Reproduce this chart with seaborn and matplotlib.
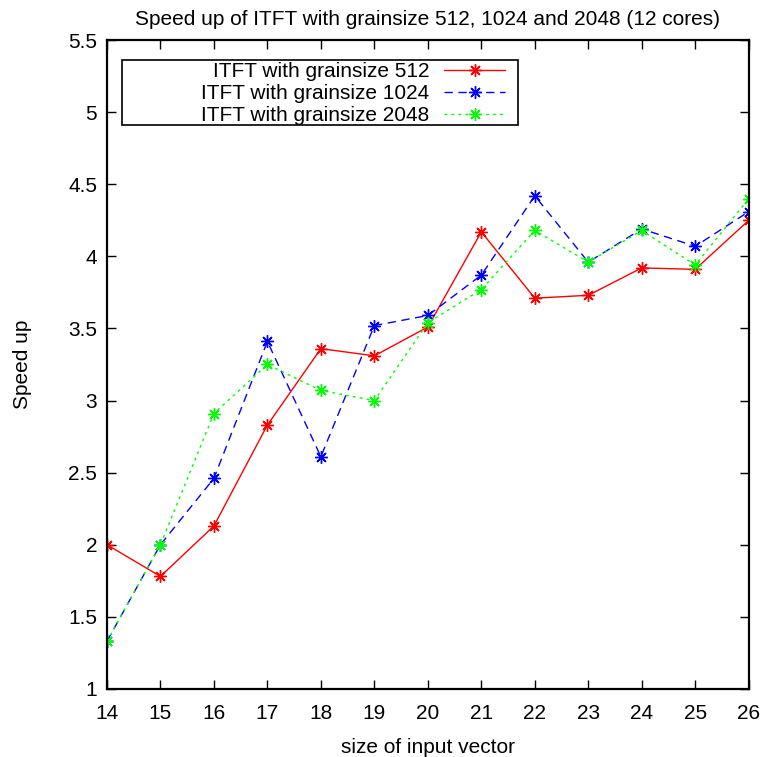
import numpy as np
import pandas as pd
import matplotlib
matplotlib.use("Agg")
import matplotlib.pyplot as plt
from matplotlib.patches import Rectangle
import seaborn as sns

sizes = [14, 15, 16, 17, 18, 19, 20, 21, 22, 23, 24, 25, 26]
speedup_512 = [2.0, 1.78, 2.13, 2.83, 3.36, 3.31, 3.51, 4.17, 3.71, 3.73, 3.92, 3.91, 4.25]
speedup_1024 = [1.33, 2.0, 2.46, 3.41, 2.61, 3.52, 3.59, 3.87, 4.42, 3.96, 4.19, 4.07, 4.31]
speedup_2048 = [1.33, 2.0, 2.91, 3.25, 3.07, 3.0, 3.54, 3.77, 4.18, 3.96, 4.18, 3.94, 4.40]

labels = ["ITFT with grainsize 512", "ITFT with grainsize 1024", "ITFT with grainsize 2048"]
colors = ["#ff0000", "#0000ff", "#00ff00"]
dashes = ["-", (0, (6, 4)), (0, (2, 3))]

sns.set_style("ticks")
plt.rcParams["font.family"] = ["Liberation Sans", "DejaVu Sans"]
plt.rcParams["text.color"] = "black"
plt.rcParams["axes.labelcolor"] = "black"
plt.rcParams["xtick.color"] = "black"
plt.rcParams["ytick.color"] = "black"

fs = 15
fs_big = 15

fig = plt.figure(figsize=(7.64, 7.57), dpi=100)
ax = fig.add_axes([0.140, 0.090, 0.840, 0.857])

for lab, vals, c, ls in zip(labels, [speedup_512, speedup_1024, speedup_2048], colors, dashes):
    df = pd.DataFrame({"size": sizes, "speedup": vals})
    sns.lineplot(data=df, x="size", y="speedup", ax=ax, color=c, linestyle=ls,
                 linewidth=1, marker=(8, 2, 0), markersize=9, markeredgewidth=1,
                 markeredgecolor=c, label=lab)

ax.set_xlim(14, 26)
ax.set_ylim(1, 5.5)
ax.set_xticks(sizes)
yt = np.arange(1, 5.51, 0.5)
ax.set_yticks(yt)
ax.set_yticklabels([f"{v:g}" for v in yt])
ax.tick_params(direction="in", length=6.5, width=1, top=True, right=True, labelsize=fs)
ax.tick_params(axis="x", pad=11)
ax.tick_params(axis="y", pad=7)
for s in ax.spines.values():
    s.set_linewidth(1.6)
    s.set_color("black")

ax.set_xlabel("size of input vector", fontsize=fs_big, labelpad=11)
ax.set_ylabel("Speed up", fontsize=fs_big, labelpad=26)
ax.set_title("Speed up of ITFT with grainsize 512, 1024 and 2048 (12 cores)", fontsize=fs_big, pad=11)

leg = ax.legend(loc="upper right", bbox_to_anchor=(0.620, 0.966), markerfirst=False,
                fontsize=fs_big, handlelength=2.9, handletextpad=0.72, labelspacing=0.15,
                borderpad=0, fancybox=False, frameon=False, borderaxespad=0)
ax.add_patch(Rectangle((0.0234, 0.869), 0.6166, 0.100, transform=ax.transAxes,
                       fill=False, edgecolor="black", linewidth=1.2, zorder=5))

fig.savefig("out.png", dpi=100)
